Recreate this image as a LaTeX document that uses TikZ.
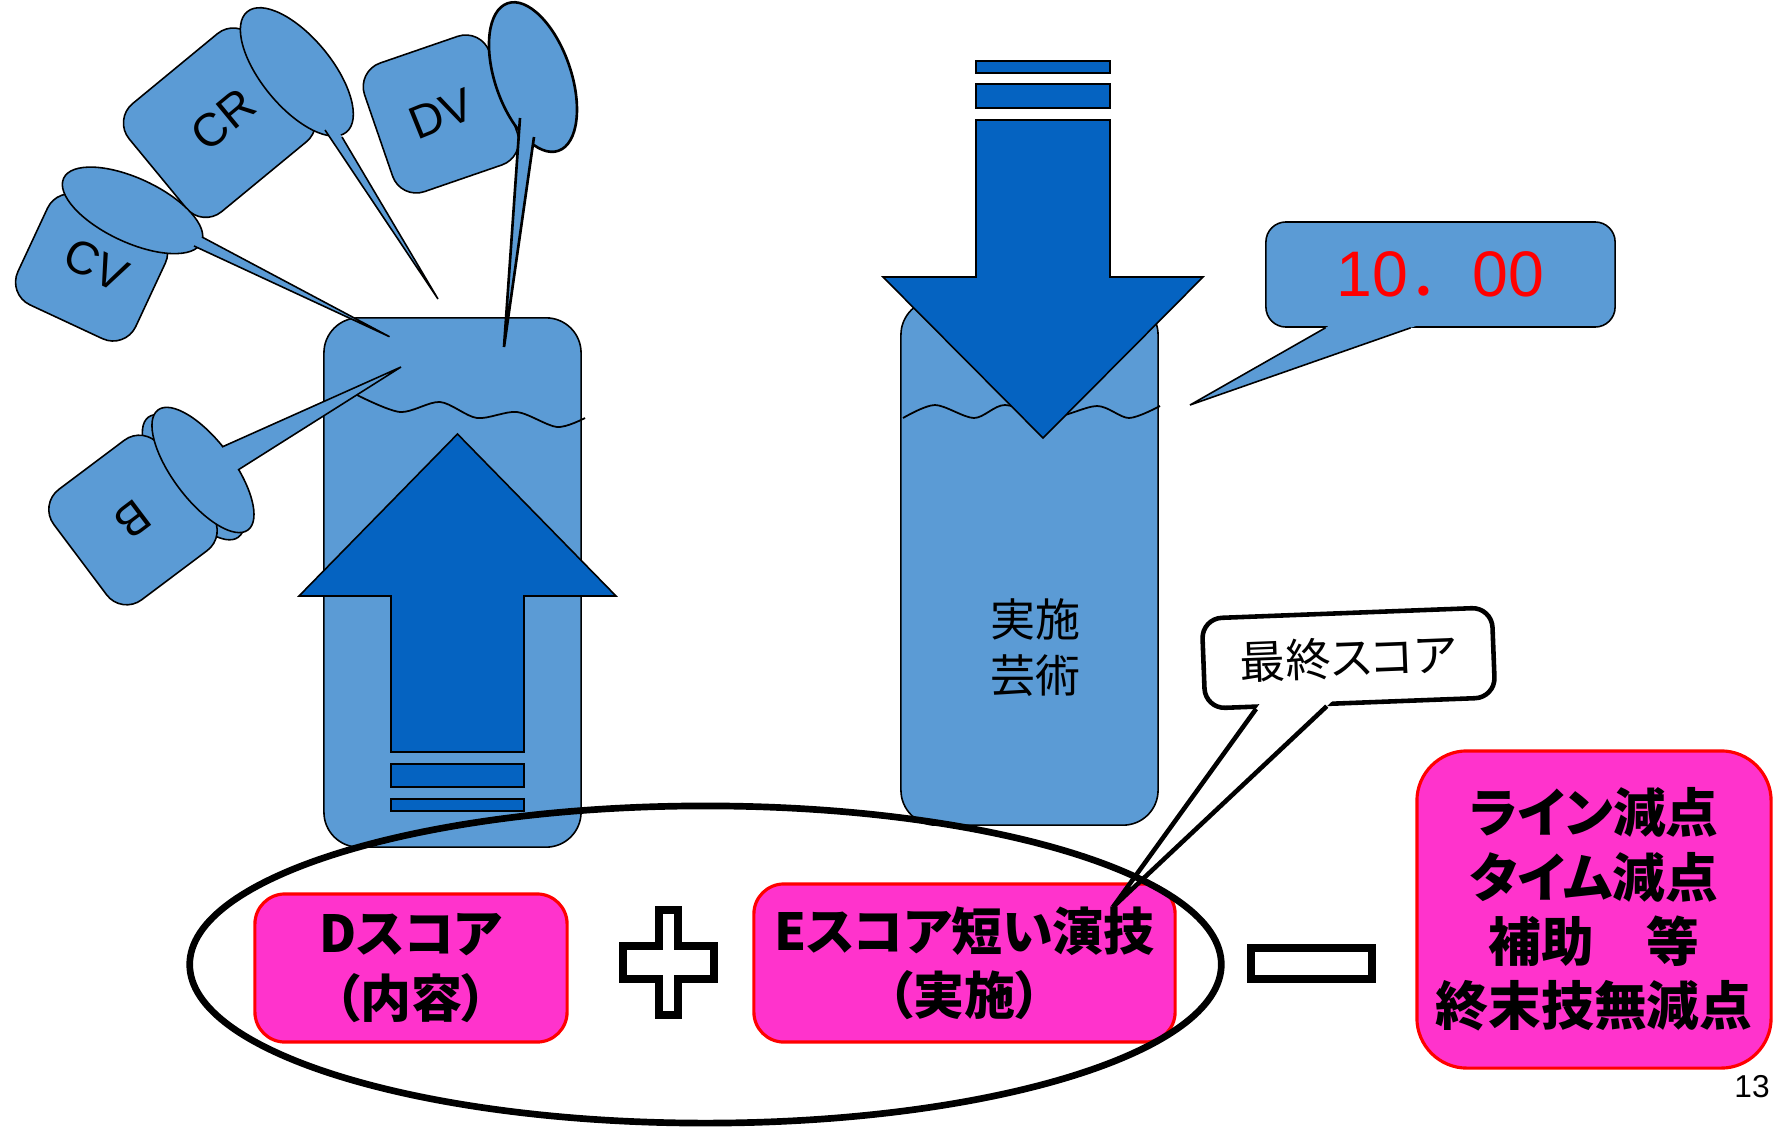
\documentclass[tikz,border=0pt]{standalone}
\usepackage{fontspec}
\setmainfont{Liberation Sans}
\newfontfamily\jp[RawFeature=+palt]{Noto Sans CJK JP}
\newfontfamily\jpwide{Noto Sans CJK JP}
\usepackage{xcolor}
\usetikzlibrary{shapes.geometric, calc}

\definecolor{jarblue}{HTML}{5B9BD5}
\definecolor{arrowblue}{HTML}{0563C1}
\definecolor{scorepink}{HTML}{FF33CC}

\begin{document}
\begin{tikzpicture}[
        x=0.01cm, y=-0.01cm,
        jar/.style={rectangle, draw, fill=jarblue, line width=0.45pt, rounded corners=0.35cm, minimum width=2.57cm, inner sep=0},
        fatarrow/.style={draw, fill=arrowblue, line width=0.45pt},
        pinpart/.style={draw, fill=jarblue, line width=0.45pt},
        pinline/.style={draw, line width=0.45pt},
        pinlabel/.style={font=\fontsize{13.2}{14}\selectfont, inner sep=0},
        wave/.style={line width=0.5pt},
        scorebox/.style={rectangle, draw=red, fill=scorepink, line width=0.9pt, rounded corners=0.3cm, align=center, inner sep=0, font=\jp\bfseries\fontsize{14.5}{18.3}\selectfont},
        opsign/.style={draw, fill=white, line width=2.3pt, line join=miter}
    ]
    \useasboundingbox (0,0) rectangle (1773,1127);

    % left jar with the rising arrow
    \node[jar, minimum height=5.29cm] (djar) at (452.5,582.5) {};
    \draw[wave] plot[smooth] coordinates {(357,395) (400,412) (440,402) (477,418) (517,412) (557,427) (585,418)};
    \draw[fatarrow] (457.5,434) -- (616,596) -- (524,596) -- (524,752) -- (391,752) -- (391,596) -- (299,596) -- cycle;
    \draw[fatarrow] (391,764) rectangle (524,787);
    \draw[fatarrow] (391,799) rectangle (524,811);

    % pins pouring into the left jar
    \begin{scope}[shift={(219.5,122.7)}, rotate=39.5, yscale=-1]
        \draw[pinpart, rounded corners=0.25cm] (-80,-70) rectangle (80,70);
        \draw[pinpart] (92,-10) ellipse [x radius=35, y radius=78];
        \node[pinlabel, rotate=39.5] (cr) at (5,0) {CR};
    \end{scope}
    \coordinate (crbase1) at (325,130);
    \coordinate (crbase2) at (342,137);
    \coordinate (crtip) at (438,299);
    \fill[jarblue] ($(crbase1)!-0.06!(crtip)$) -- (crtip) -- ($(crbase2)!-0.06!(crtip)$) -- cycle;
    \draw[pinline] (crbase1) -- (crtip) -- (crbase2);

    \begin{scope}[shift={(441,114)}, rotate=19, yscale=-1]
        \draw[pinpart, rounded corners=0.25cm] (-66,-68) rectangle (66,68);
        \draw[pinpart, line width=0.75pt] (99,5) ellipse [x radius=38, y radius=78];
        \node[pinlabel, rotate=22] (dv) at (0,0) {DV};
    \end{scope}
    \coordinate (dvbase1) at (520,118);
    \coordinate (dvbase2) at (534,137);
    \coordinate (dvtip) at (504,347);
    \fill[jarblue] ($(dvbase1)!-0.05!(dvtip)$) -- (dvtip) -- ($(dvbase2)!-0.05!(dvtip)$) -- cycle;
    \draw[pinline, line width=0.75pt] (dvbase1) -- (dvtip) -- (dvbase2);

    \begin{scope}[shift={(91.6,267.4)}, rotate=-25, yscale=-1]
        \draw[pinpart, rounded corners=0.25cm] (-65,-60) rectangle (65,60);
        \draw[pinpart] (13,69) ellipse [x radius=76, y radius=32];
        \node[pinlabel, rotate=-25] (cv) at (3,4) {CV};
    \end{scope}
    \coordinate (cvbase1) at (202,237);
    \coordinate (cvbase2) at (194,246);
    \coordinate (cvtip) at (389.5,336.7);
    \fill[jarblue] ($(cvbase1)!-0.05!(cvtip)$) -- (cvtip) -- ($(cvbase2)!-0.05!(cvtip)$) -- cycle;
    \draw[pinline] (cvbase1) -- (cvtip) -- (cvbase2);

    \begin{scope}[shift={(133,520)}, rotate=36.9, yscale=-1]
        \draw[pinpart] (74,-2) ellipse [x radius=30, y radius=75];
        \draw[pinpart, rounded corners=0.25cm] (-66,-69) rectangle (66,69);
        \draw[pinpart] (86,-2) ellipse [x radius=30, y radius=75];
        \node[pinlabel, rotate=-143] (b) at (0,0) {B};
    \end{scope}
    \coordinate (bbase1) at (222,447);
    \coordinate (bbase2) at (238,470);
    \coordinate (btip) at (401,367);
    \fill[jarblue] ($(bbase1)!-0.06!(btip)$) -- (btip) -- ($(bbase2)!-0.06!(btip)$) -- cycle;
    \draw[pinline] (bbase1) -- (btip) -- (bbase2);

    % right jar with the falling arrow
    \node[jar, minimum height=5.25cm] (ejar) at (1029.5,562.5) {};
    \draw[wave] plot[smooth] coordinates {(903,418) (935,405) (974,418) (1005,405) (1050,418) (1097,406) (1129,418) (1160,406)};
    \draw[fatarrow] (1043,438) -- (1203,277) -- (1110,277) -- (1110,120) -- (976,120) -- (976,277) -- (883,277) -- cycle;
    \draw[fatarrow] (976,84) rectangle (1110,108);
    \draw[fatarrow] (976,61) rectangle (1110,73);
    \node[font=\jp\fontsize{12.8}{15.9}\selectfont, align=center] (perf) at (1035,648) {実施\\芸術};

    % ten point callout
    \node[rectangle, draw, fill=jarblue, line width=0.45pt, rounded corners=0.2cm, minimum width=3.49cm, minimum height=1.05cm, inner sep=0, text=red, font=\fontsize{18.3}{20}\selectfont] (tenbox) at (1440.5,274.5) {10{\jpwide ．}00};
    \coordinate (tentip) at (1190,405);
    \coordinate (tenbase1) at ($(tenbox.south west)!0.172!(tenbox.south east)$);
    \coordinate (tenbase2) at ($(tenbox.south west)!0.415!(tenbox.south east)$);
    \fill[jarblue] ($(tenbase1)!-0.04!(tentip)$) -- (tentip) -- ($(tenbase2)!-0.04!(tentip)$) -- cycle;
    \draw[pinline] (tenbase1) -- (tentip) -- (tenbase2);

    % score formula
    \node[scorebox, minimum width=3.12cm, minimum height=1.48cm] (dscore) at (411,968) {Dスコア\\（内容）};
    \node[scorebox, minimum width=4.21cm, minimum height=1.58cm] (escore) at (964.5,963) {Eスコア短い演技\\（実施）};
    \node[scorebox, rounded corners=0.5cm, minimum width=3.54cm, minimum height=3.17cm, font=\jp\bfseries\fontsize{15}{18.3}\selectfont] (deduct) at (1594,909.5) {ライン減点\\タイム減点\\補助　等\\終末技無減点};
    \draw[opsign] (659,910) -- (678,910) -- (678,946) -- (714,946) -- (714,979) -- (678,979) -- (678,1015) -- (659,1015) -- (659,979) -- (623,979) -- (623,946) -- (659,946) -- cycle;
    \node[opsign, rectangle, minimum width=1.21cm, minimum height=0.31cm, inner sep=0] (minus) at (1311.5,963.5) {};

    % final score callout
    \node[rectangle, draw, fill=white, line width=1.3pt, rounded corners=0.2cm, rotate=2.2, minimum width=2.9cm, minimum height=0.9cm, inner sep=0, font=\jp\fontsize{12.9}{14}\selectfont] (final) at (1348.5,658) {最終スコア};
    \coordinate (finaltip) at (1113,907);
    \coordinate (finalbase1) at ($(final.south west)!0.18!(final.south east)$);
    \coordinate (finalbase2) at ($(final.south west)!0.42!(final.south east)$);
    \fill[white] ($(finalbase1)!-0.03!(finaltip)$) -- (finaltip) -- ($(finalbase2)!-0.03!(finaltip)$) -- cycle;
    \draw[line width=1.3pt] (finalbase1) -- (finaltip) -- (finalbase2);

    \node[ellipse, draw, line width=1.9pt, minimum width=10.31cm, minimum height=3.17cm, inner sep=0] (total) at (705.5,964.5) {};

    \node[font=\fontsize{9}{10}\selectfont, inner sep=0] (pageno) at (1752,1087) {13};
\end{tikzpicture}
\end{document}
